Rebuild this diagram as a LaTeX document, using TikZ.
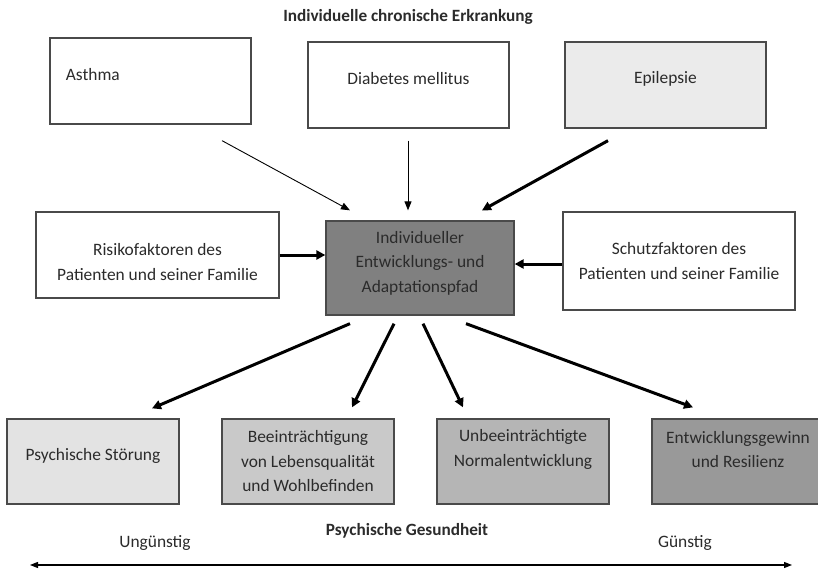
\documentclass[tikz,border=0pt]{standalone}
\usepackage{fontspec}
\setmainfont{Carlito}
\usetikzlibrary{arrows.meta}
\definecolor{bordercol}{HTML}{4A4A4A}
\definecolor{txtcol}{HTML}{2B2B2B}
\definecolor{fillepi}{HTML}{EBEBEB}
\definecolor{fillcenter}{HTML}{808080}
\definecolor{fillps}{HTML}{E3E3E3}
\definecolor{fillbe}{HTML}{C9C9C9}
\definecolor{fillno}{HTML}{B5B5B5}
\definecolor{filleg}{HTML}{999999}
\tikzset{
  box/.style={draw=bordercol, line width=1.3pt, inner sep=0pt, rectangle},
  lbl/.style={align=center, text=txtcol, font=\fontsize{17.4}{24.5}\selectfont},
  thinarrow/.style={line width=0.9pt, -{Triangle[length=9pt,width=7pt]}},
  thickarrow/.style={line width=3pt, -{Triangle[length=9pt,width=9pt]}},
  axisarrow/.style={line width=1.2pt, {Triangle[length=8pt,width=6pt]}-{Triangle[length=8pt,width=6pt]}},
  heading/.style={font=\fontsize{17.2}{20}\selectfont\bfseries, text=txtcol},
}
\begin{document}
\begin{tikzpicture}[x=1pt,y=-1pt]
\clip (0,0) rectangle (818,569);
\fill[white] (0,0) rectangle (818,569);

\node[heading] (title) at (408,17) {Individuelle chronische Erkrankung};

% top boxes
\node[box, minimum width=201pt, minimum height=86pt,
  label={[lbl, anchor=west, xshift=13pt, yshift=6pt]west:Asthma}] (asthma) at (150.5,81) {};
\node[box, minimum width=201pt, minimum height=86pt,
  label={[lbl, yshift=6pt]center:Diabetes mellitus}] (diab) at (408.5,85) {};
\node[box, fill=fillepi, minimum width=201pt, minimum height=86pt,
  label={[lbl, yshift=6pt]center:Epilepsie}] (epi) at (665.5,85) {};

% middle row
\node[box, minimum width=243pt, minimum height=86pt,
  label={[lbl, yshift=-7pt]center:Risikofaktoren des\\Patienten und seiner Familie}] (risk) at (157.5,255) {};
\node[box, fill=fillcenter, minimum width=188pt, minimum height=94pt,
  label={[lbl, yshift=5pt]center:Individueller\\Entwicklungs- und\\Adaptationspfad}] (center) at (420,268) {};
\node[box, minimum width=232pt, minimum height=98pt,
  label={[lbl]center:Schutzfaktoren des\\Patienten und seiner Familie}] (schutz) at (679,261) {};

% bottom row
\node[box, fill=fillps, minimum width=172pt, minimum height=85pt,
  label={[lbl, yshift=5.5pt]center:Psychische Störung}] (ps) at (93,461.5) {};
\node[box, fill=fillbe, minimum width=172pt, minimum height=85pt,
  label={[lbl]center:Beeinträchtigung\\von Lebensqualität\\und Wohlbefinden}] (be) at (308,461.5) {};
\node[box, fill=fillno, minimum width=172pt, minimum height=85pt,
  label={[lbl, yshift=12pt]center:Unbeeinträchtigte\\Normalentwicklung}] (no) at (523,461.5) {};
\node[box, fill=filleg, minimum width=172pt, minimum height=85pt,
  label={[lbl, yshift=12pt]center:Entwicklungsgewinn\\und Resilienz}] (eg) at (738,461.5) {};

% bottom labels
\node[heading] (gesund) at (407,531) {Psychische Gesundheit};
\node[lbl] (ungue) at (155,543) {Ungünstig};
\node[lbl] (guen) at (685,543) {Günstig};
\coordinate (axl) at (30,565);
\coordinate (axr) at (792,565);

% arrows into center
\draw[thinarrow] ([xshift=71.5pt,yshift=-16pt]asthma.south) -- ([xshift=-70pt,yshift=10pt]center.north);
\draw[thinarrow] ([xshift=-0.5pt,yshift=-12pt]diab.south) -- ([xshift=-12pt,yshift=10pt]center.north);
\draw[thickarrow] ([xshift=-57.5pt,yshift=-12pt]epi.south) -- ([xshift=62pt,yshift=10pt]center.north);
\draw[thickarrow] (risk.east) -- (center.west |- risk.east);
\draw[thickarrow] ([yshift=-3pt]schutz.west) -- ([yshift=-3pt]center.east |- schutz.west);

% arrows out of center
\draw[thickarrow] ([xshift=-70pt,yshift=-8pt]center.south) -- ([xshift=59pt,yshift=10pt]ps.north);
\draw[thickarrow] ([xshift=-26pt,yshift=-8pt]center.south) -- ([xshift=44pt,yshift=11pt]be.north);
\draw[thickarrow] ([xshift=3pt,yshift=-8pt]center.south) -- ([xshift=-60pt,yshift=11pt]no.north);
\draw[thickarrow] ([xshift=46pt,yshift=-8pt]center.south) -- ([xshift=-45pt,yshift=11pt]eg.north);

% axis
\draw[axisarrow] (axl) -- (axr);
\end{tikzpicture}
\end{document}
